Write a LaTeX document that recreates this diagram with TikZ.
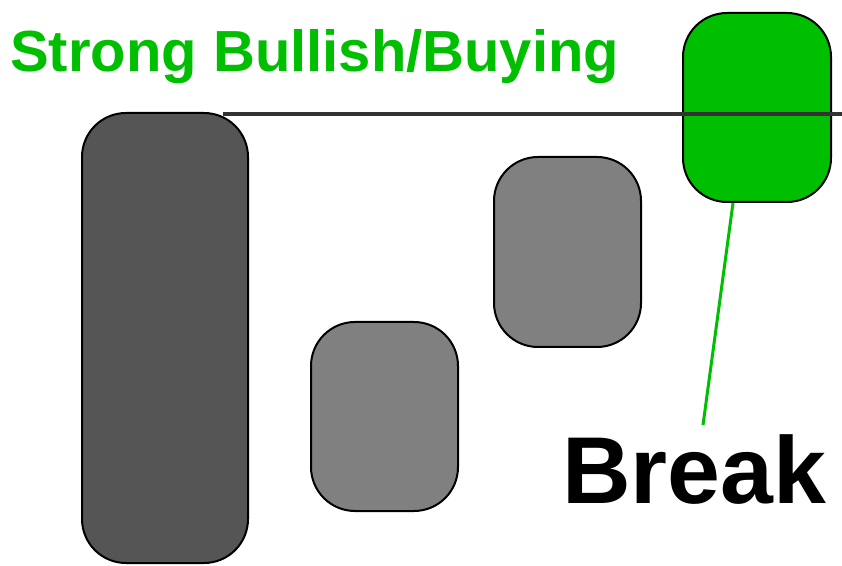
\documentclass[tikz,border=0pt]{standalone}
\usepackage{fontspec}
\setmainfont{Liberation Sans}
\usetikzlibrary{calc}
\definecolor{bullgreen}{RGB}{0,190,0}
\definecolor{darkbar}{RGB}{85,85,85}
\definecolor{midbar}{RGB}{128,128,128}
\definecolor{levelline}{RGB}{51,51,51}
\tikzset{
  candle/.style={draw=black, line width=2pt, rounded corners=44pt, inner sep=0pt, minimum width=#1},
  candle/.default=147pt,
  lbl/.style={inner sep=0pt, font=\bfseries}
}
\begin{document}
\begin{tikzpicture}[x=1pt,y=1pt]
\useasboundingbox (0,0) rectangle (842,565);
\node[candle=166pt, fill=darkbar, minimum height=450pt] (big) at (165,227) {};
\node[candle, fill=midbar, minimum height=189pt] (mid) at (384.5,148.5) {};
\node[candle, fill=midbar, minimum height=190pt] (high) at (567.5,313) {};
\node[candle=148pt, fill=bullgreen, minimum height=189pt] (green) at (757,457.5) {};
\coordinate (lineA) at (223,451);
\coordinate (lineB) at (842,451);
\draw[levelline, line width=4pt] (lineA) -- (lineB);
\node[lbl, text=bullgreen, anchor=base west, font=\bfseries\fontsize{58}{60}\selectfont] (title) at (10,493) {Strong Bullish/Buying};
\node[lbl, text=black, anchor=base west, font=\bfseries\fontsize{95}{98}\selectfont] (brk) at (562,62) {Break};
\coordinate (gfoot) at ($(green.south)+(-24,0)$);
\coordinate (gend) at (703,140);
\draw[bullgreen, line width=3pt] (gfoot) -- (gend);
\end{tikzpicture}
\end{document}
